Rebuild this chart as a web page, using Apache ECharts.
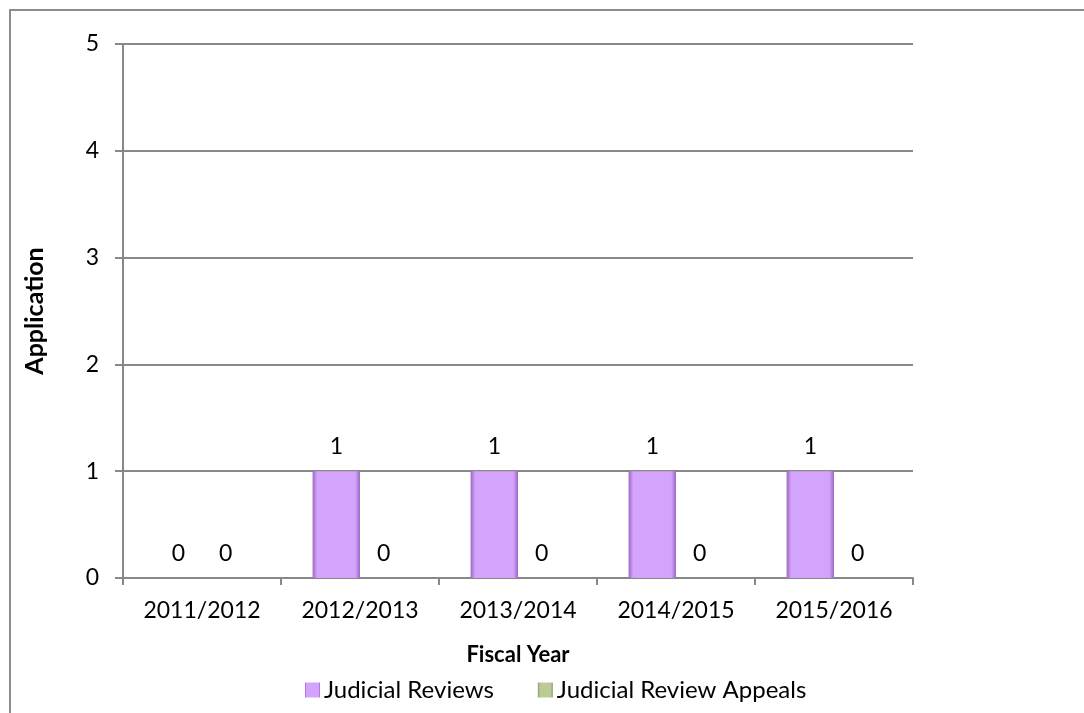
<!DOCTYPE html>
<html lang="en">
<head>
    <meta charset="UTF-8">
    <script src="https://cdn.jsdelivr.net/npm/echarts@6/dist/echarts.min.js"></script>
    <title>Judicial Reviews</title>
</head>
<body>
    <style>
        html, body, #main {
            margin: 0;
            width: 1084px;
            height: 713px;
            background: #fff;
        }
    </style>
    <div id="main"></div>
    <script>
        var years = ['2011/2012', '2012/2013', '2013/2014', '2014/2015', '2015/2016'];
        var judicialReviews = [0, 1, 1, 1, 1];
        var judicialReviewAppeals = [0, 0, 0, 0, 0];
        var yTicks = [0, 1, 2, 3, 4, 5];

        var font = 'Lato, "Open Sans", sans-serif';

        var purple = new echarts.graphic.LinearGradient(0, 0, 1, 0, [
            { offset: 0, color: '#9a68c6' },
            { offset: 0.1, color: '#d4a4fc' },
            { offset: 0.9, color: '#d4a4fc' },
            { offset: 1, color: '#9a68c6' }
        ]);
        var green = new echarts.graphic.LinearGradient(0, 0, 1, 0, [
            { offset: 0, color: '#8a9b66' },
            { offset: 0.15, color: '#bccb96' },
            { offset: 0.85, color: '#bccb96' },
            { offset: 1, color: '#8a9b66' }
        ]);

        var labelOpt = {
            show: true,
            position: 'top',
            distance: 13,
            color: '#000',
            fontSize: 23,
            fontFamily: font
        };

        var chart = echarts.init(document.getElementById('main'));
        chart.setOption({
            animation: false,
            graphic: [{
                type: 'rect',
                shape: { x: 10, y: 10, width: 1200, height: 900 },
                style: { fill: 'none', stroke: '#8c8c8c', lineWidth: 2 },
                silent: true
            }],
            grid: { left: 123, right: 171, top: 44, bottom: 135 },
            legend: {
                top: 673,
                left: 300,
                itemGap: 44,
                itemWidth: 15,
                itemHeight: 15,
                icon: 'rect',
                textStyle: { fontSize: 24, fontFamily: font, color: '#000', padding: [0, 0, 0, -1] },
                data: [
                    { name: 'Judicial Reviews', itemStyle: { color: purple } },
                    { name: 'Judicial Review Appeals', itemStyle: { color: green } }
                ]
            },
            xAxis: {
                type: 'category',
                data: years,
                name: 'Fiscal Year',
                nameLocation: 'middle',
                nameGap: 66,
                nameTextStyle: { fontSize: 22, fontWeight: 'bold', fontFamily: font, color: '#000' },
                axisLine: { lineStyle: { color: '#888', width: 2 } },
                axisTick: { show: true, length: 7, lineStyle: { color: '#888', width: 2 } },
                axisLabel: { fontSize: 23, fontFamily: font, color: '#000', margin: 21 }
            },
            yAxis: {
                type: 'value',
                min: 0,
                max: yTicks[yTicks.length - 1],
                interval: 1,
                name: 'Application',
                nameLocation: 'middle',
                nameGap: 76,
                nameTextStyle: { fontSize: 25, fontWeight: 'bold', fontFamily: font, color: '#000' },
                axisLine: { show: true, lineStyle: { color: '#888', width: 2 } },
                axisTick: { show: true, length: 8, lineStyle: { color: '#888', width: 2 } },
                axisLabel: { fontSize: 23, fontFamily: font, color: '#000', margin: 24 },
                splitLine: { lineStyle: { color: '#888', width: 2 } }
            },
            series: [{
                name: 'Judicial Reviews',
                type: 'bar',
                data: judicialReviews,
                barGap: '0%',
                barCategoryGap: '40%',
                itemStyle: { color: purple },
                label: labelOpt
            }, {
                name: 'Judicial Review Appeals',
                type: 'bar',
                data: judicialReviewAppeals,
                itemStyle: { color: green },
                label: labelOpt
            }]
        });
    </script>
</body>
</html>
